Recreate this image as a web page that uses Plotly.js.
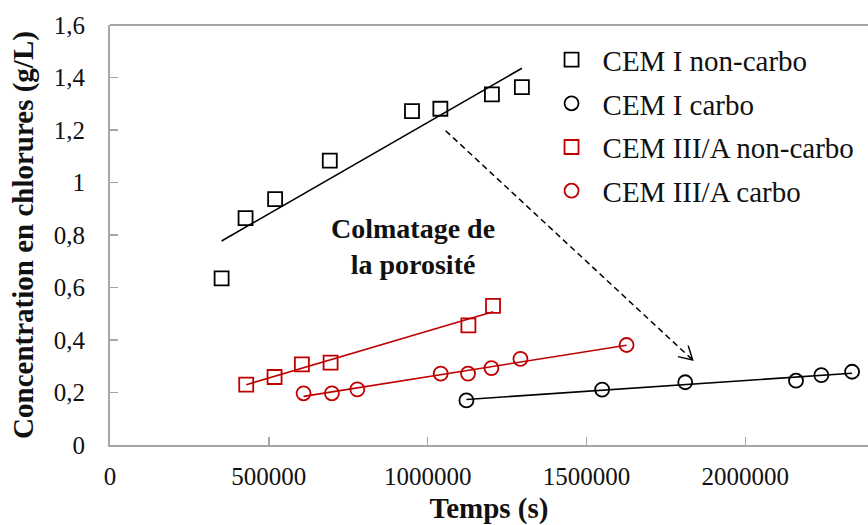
<!DOCTYPE html>
<html>
<head>
<meta charset="utf-8">
<script src="https://cdn.plot.ly/plotly-3.0.1.min.js"></script>
<style>html,body{margin:0;padding:0;background:#fff;}#chart{width:868px;height:525px;}</style>
</head>
<body>
<div id="chart"></div>
<script>
// ---- Data ----
const seriesNames = ['CEM I non-carbo', 'CEM I carbo', 'CEM III/A non-carbo', 'CEM III/A carbo'];

const xCemINonCarbo = [351300, 426700, 519800, 691800, 950600, 1039900, 1202200, 1296500];
const yCemINonCarbo = [0.635, 0.864, 0.937, 1.083, 1.272, 1.281, 1.336, 1.363];

const xCemICarbo = [1121900, 1549200, 1810700, 2159400, 2239100, 2335900];
const yCemICarbo = [0.170, 0.211, 0.239, 0.245, 0.266, 0.279];

const xCemIIINonCarbo = [428800, 518000, 604000, 694400, 1128200, 1205700];
const yCemIIINonCarbo = [0.230, 0.259, 0.307, 0.314, 0.456, 0.530];

const xCemIIICarbo = [609300, 698500, 778500, 1041000, 1127000, 1200700, 1292000, 1626000];
const yCemIIICarbo = [0.197, 0.197, 0.212, 0.272, 0.272, 0.293, 0.328, 0.381];

const xTickVals = [0, 500000, 1000000, 1500000, 2000000];

const annotationText = '<b>Colmatage de<br>la porosité</b>';
const annotationPos = [955000, 0.758];
const arrowStart = [1056700, 1.197];
const arrowEnd = [1834000, 0.324];

// ---- Styling / layout ----
const W = 868, H = 525;
const M = {l: 110, r: 0, t: 25, b: 80};
const xRange = [0, 2386000];
const yRange = [0, 1.6];
const BLACK = '#000000', RED = '#c00000', AXIS = '#a6a6a6', TXT = '#111111';
const FONT = 'Liberation Serif, Times New Roman, serif';

function linFit(xs, ys) {
  const n = xs.length;
  const mx = xs.reduce((a, b) => a + b, 0) / n;
  const my = ys.reduce((a, b) => a + b, 0) / n;
  let sxy = 0, sxx = 0;
  for (let i = 0; i < n; i++) { sxy += (xs[i] - mx) * (ys[i] - my); sxx += (xs[i] - mx) ** 2; }
  const m = sxy / sxx, b = my - m * mx;
  const x0 = Math.min(...xs), x1 = Math.max(...xs);
  return {x: [x0, x1], y: [m * x0 + b, m * x1 + b]};
}

const defs = [
  {name: seriesNames[0], x: xCemINonCarbo, y: yCemINonCarbo, color: BLACK, symbol: 'square-open'},
  {name: seriesNames[1], x: xCemICarbo, y: yCemICarbo, color: BLACK, symbol: 'circle-open'},
  {name: seriesNames[2], x: xCemIIINonCarbo, y: yCemIIINonCarbo, color: RED, symbol: 'square-open'},
  {name: seriesNames[3], x: xCemIIICarbo, y: yCemIIICarbo, color: RED, symbol: 'circle-open'}
];

const traces = [];
defs.forEach((d, i) => {
  const f = linFit(d.x, d.y);
  traces.push({
    x: f.x, y: f.y, mode: 'lines', type: 'scatter', showlegend: false, hoverinfo: 'skip',
    line: {color: d.color, width: 1.6}
  });
});
defs.forEach((d, i) => {
  traces.push({
    x: d.x, y: d.y, name: d.name, mode: 'markers', type: 'scatter', legendgroup: 'g' + i,
    marker: {symbol: d.symbol, size: 14, color: d.color, line: {color: d.color, width: 1.8}}
  });
});

// arrow head computed in pixel space
const pw = W - M.l - M.r, ph = H - M.t - M.b;
const pxX = pw / (xRange[1] - xRange[0]), pxY = ph / (yRange[1] - yRange[0]);
const dxp = (arrowEnd[0] - arrowStart[0]) * pxX;
const dyp = -(arrowEnd[1] - arrowStart[1]) * pxY;
const ang = Math.atan2(dyp, dxp);
const headLen = 15, headHalf = 30 * Math.PI / 180;
function arm(s) {
  const a = ang + s * headHalf;
  return [arrowEnd[0] - headLen * Math.cos(a) / pxX, arrowEnd[1] + headLen * Math.sin(a) / pxY];
}
const a1 = arm(1), a2 = arm(-1);

const layout = {
  width: W, height: H, margin: M,
  paper_bgcolor: '#ffffff', plot_bgcolor: '#ffffff',
  separators: ', ',
  font: {family: FONT, color: TXT, size: 24},
  showlegend: true,
  legend: {
    x: 0.568, xanchor: 'left', y: 0.978, yanchor: 'top',
    font: {family: FONT, size: 29, color: TXT},
    itemwidth: 52,
    traceorder: 'grouped', tracegroupgap: 3, bgcolor: 'rgba(0,0,0,0)'
  },
  xaxis: {
    range: xRange, tickvals: xTickVals, tickformat: 'd',
    showgrid: false, zeroline: false, showline: true, linecolor: AXIS, linewidth: 2,
    ticks: 'inside', ticklen: 8, tickwidth: 1.5, tickcolor: AXIS,
    ticklabelstandoff: 8,
    tickfont: {family: FONT, size: 25, color: TXT},
    title: {text: '<b>Temps (s)</b>', font: {family: FONT, size: 29, color: TXT}, standoff: 12}
  },
  yaxis: {
    range: yRange, dtick: 0.2, tick0: 0,
    showgrid: false, zeroline: false, showline: true, linecolor: AXIS, linewidth: 2,
    ticks: 'inside', ticklen: 8, tickwidth: 1.5, tickcolor: AXIS,
    ticklabelstandoff: 18,
    tickfont: {family: FONT, size: 25, color: TXT},
    title: {text: '<b>Concentration en chlorures (g/L)</b>', font: {family: FONT, size: 29, color: TXT}, standoff: 12}
  },
  shapes: [
    {type: 'line', xref: 'paper', yref: 'paper', x0: 0, x1: 1, y0: 1, y1: 1, line: {color: AXIS, width: 2}},
    {type: 'line', xref: 'x', yref: 'y', x0: arrowStart[0], y0: arrowStart[1], x1: arrowEnd[0], y1: arrowEnd[1],
      line: {color: BLACK, width: 1.5, dash: '6px,4px'}},
    {type: 'path', xref: 'x', yref: 'y',
      path: 'M' + a1[0] + ',' + a1[1] + 'L' + arrowEnd[0] + ',' + arrowEnd[1] + 'L' + a2[0] + ',' + a2[1],
      line: {color: BLACK, width: 1.5}}
  ],
  annotations: [
    {x: annotationPos[0], y: annotationPos[1], xref: 'x', yref: 'y', text: annotationText, showarrow: false,
      font: {family: FONT, size: 28, color: TXT}, align: 'center'}
  ]
};

Plotly.newPlot('chart', traces, layout, {displayModeBar: false, staticPlot: true});
</script>
</body>
</html>
